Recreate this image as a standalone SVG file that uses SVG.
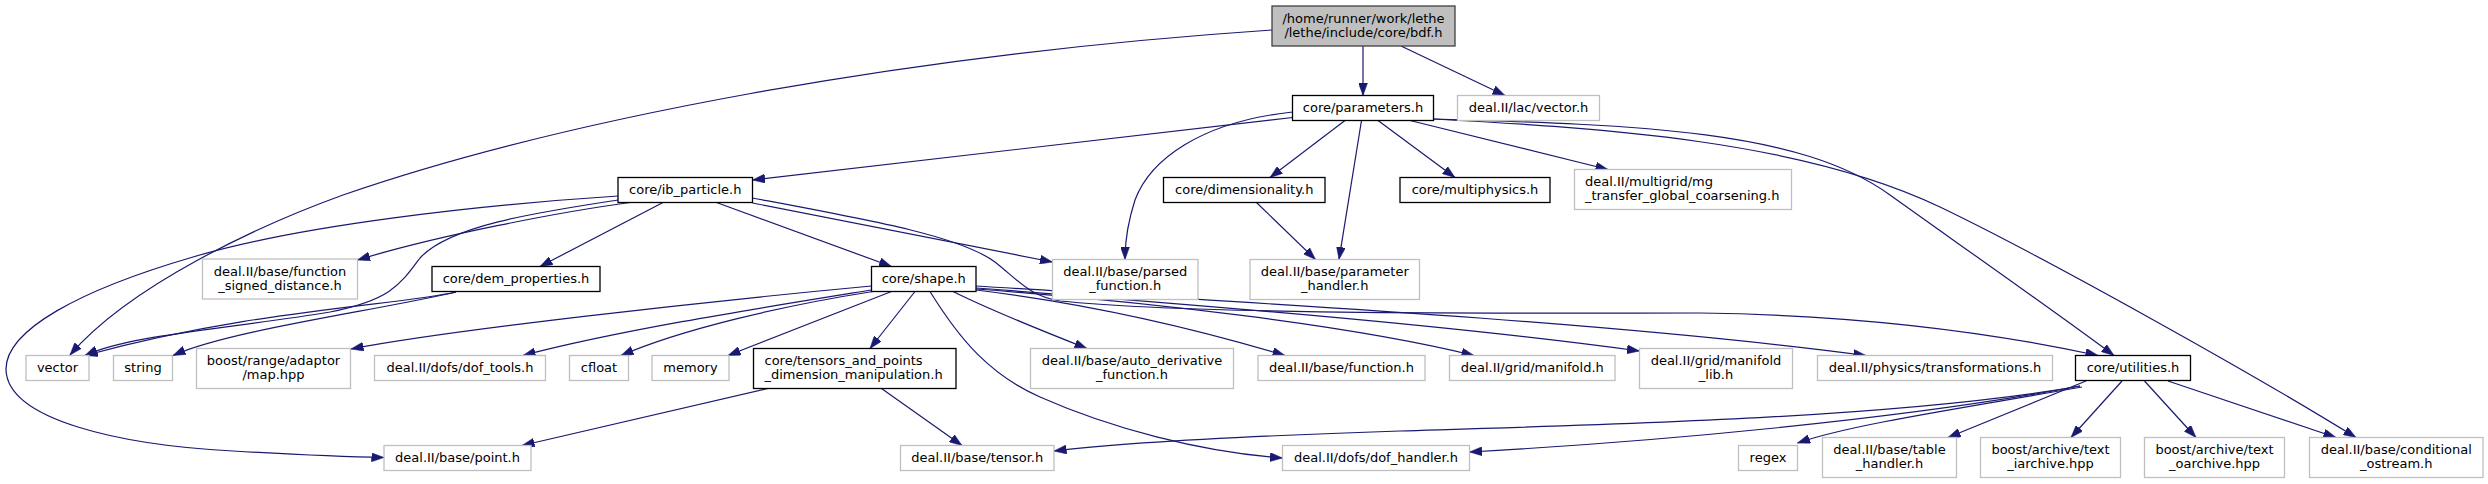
<svg xmlns="http://www.w3.org/2000/svg" width="2488" height="484" viewBox="0 0 2488 484">
<defs>
<style>
.n rect{fill:#ffffff;stroke:#000000;stroke-width:1.3}
.x rect{fill:#ffffff;stroke:#bfbfbf;stroke-width:1.3}
.r rect{fill:#bfbfbf;stroke:#404040;stroke-width:1.3}
text{font-family:"DejaVu Sans","Liberation Sans",sans-serif;font-size:13px;fill:#000000;text-anchor:middle}
text.l{text-anchor:start}
#edges path{fill:none;stroke:#191970;stroke-width:1.2;marker-end:url(#arr)}
</style>
<marker id="arr" markerUnits="userSpaceOnUse" markerWidth="13" markerHeight="9" refX="12.5" refY="4.5" orient="auto" viewBox="0 0 13 9">
<path d="M0,0 L12.5,4.5 L0,9 Z" fill="#191970" stroke="#191970" stroke-width="0.5"/>
</marker>
</defs>
<rect width="2488" height="484" fill="#ffffff"/>
<g id="edges">
<path d="M1363,46 L1363,95.5"/>
<path d="M1401,46 L1505,95.5"/>
<path d="M1272,30 C900,55 560,120 343,195 C260,225 130,285 70,355"/>
<path d="M1292.5,117.5 L752.5,180"/>
<path d="M1292.5,112 C1200,122 1150,160 1135,200 C1127,225 1125,245 1125,259.5"/>
<path d="M1345,120.5 L1270,177.5"/>
<path d="M1361.5,120.5 L1339,259.5"/>
<path d="M1378,120.5 L1455,177.5"/>
<path d="M1410,120.5 L1608,169.5"/>
<path d="M1433.5,119 C1640,125 1800,130 1890,195 C1950,238 2050,308 2114,355.5"/>
<path d="M1433.5,119 C1600,128 1800,140 1940,207 C2040,255 2250,372 2356,437.5"/>
<path d="M1256.5,202.5 L1315.5,259.5"/>
<path d="M630,202.5 C560,212 440,235 357.5,260"/>
<path d="M618,196 C480,205 300,225 193,257 C80,290 5,330 6,370 C8,420 120,445 233,451 C300,455 350,457 384,457.5"/>
<path d="M618,200 C540,212 450,225 420,258 C400,285 390,300 330,312 C220,330 130,335 85,355.5"/>
<path d="M663,202.5 L540,266.5"/>
<path d="M716.5,202.5 L891.5,266.5"/>
<path d="M752.5,203 L1052.5,262"/>
<path d="M752.5,198 C870,220 960,236 995,262 C1020,282 1030,296 1060,301 C1200,315 1500,313 1700,313 C1850,315 1980,330 2098,355.5"/>
<path d="M871.5,286 C700,302 450,330 351,349"/>
<path d="M871.5,290 C760,308 620,330 523,355.5"/>
<path d="M873,291.5 C780,306 680,330 621,355.5"/>
<path d="M891.5,291.5 L728,355.5"/>
<path d="M915,291.5 L870,348.5"/>
<path d="M930,291.5 C960,340 990,375 1040,397 C1110,428 1200,452 1282.5,458"/>
<path d="M953,291.5 C990,310 1040,330 1087,348.5"/>
<path d="M976,290 C1100,305 1200,330 1285,355.5"/>
<path d="M976,289 C1150,302 1350,325 1474,355.5"/>
<path d="M976,288 C1200,305 1450,325 1639.5,351"/>
<path d="M976,286 C1200,300 1600,320 1866,355.5"/>
<path d="M2080,386 C1900,418 1600,425 1400,431 C1250,436 1120,443 1054,451"/>
<path d="M2080,386 C1900,420 1650,442 1469.5,452"/>
<path d="M2082,387 C1950,410 1850,425 1797.5,443"/>
<path d="M2086,381 L1948,437.5"/>
<path d="M2122,381 L2071,437.5"/>
<path d="M2144.5,381 L2196,437.5"/>
<path d="M2168,381 L2336,437.5"/>
<path d="M768,388.5 L522,445.5"/>
<path d="M881.5,388.5 L962,445.5"/>
<path d="M456,292 C400,305 250,310 85,355.5"/>
<path d="M456,292 C380,310 230,330 173,355.5"/>
</g>
<g id="node1" class="r"><rect x="1272" y="6" width="183" height="40"/><text x="1363.5" y="22.6">/home/runner/work/lethe</text><text x="1363.5" y="36.9">/lethe/include/core/bdf.h</text></g>
<g id="node2" class="n"><rect x="1292.5" y="95.5" width="141" height="25"/><text x="1363" y="112.3">core/parameters.h</text></g>
<g id="node3" class="x"><rect x="1457.5" y="95.5" width="142" height="25"/><text x="1528.5" y="112.3">deal.II/lac/vector.h</text></g>
<g id="node4" class="n"><rect x="618" y="177.5" width="134.5" height="25"/><text x="685.25" y="194.3">core/ib_particle.h</text></g>
<g id="node5" class="n"><rect x="1163.5" y="177.5" width="161.5" height="25"/><text x="1244.25" y="194.3">core/dimensionality.h</text></g>
<g id="node6" class="n"><rect x="1400" y="177.5" width="150" height="25"/><text x="1475" y="194.3">core/multiphysics.h</text></g>
<g id="node7" class="x"><rect x="1574.5" y="169.5" width="217" height="40"/><text class="l" x="1585" y="186.1">deal.II/multigrid/mg</text><text class="l" x="1585" y="200.4">_transfer_global_coarsening.h</text></g>
<g id="node8" class="x"><rect x="1052.5" y="259.5" width="145.5" height="40"/><text x="1125.25" y="276.1">deal.II/base/parsed</text><text x="1125.25" y="290.4">_function.h</text></g>
<g id="node9" class="x"><rect x="1250" y="259.5" width="169.5" height="40"/><text x="1334.75" y="276.1">deal.II/base/parameter</text><text x="1334.75" y="290.4">_handler.h</text></g>
<g id="node10" class="x"><rect x="202.5" y="259" width="155" height="40"/><text x="280" y="275.6">deal.II/base/function</text><text x="280" y="289.9">_signed_distance.h</text></g>
<g id="node11" class="n"><rect x="432" y="266.5" width="168" height="25"/><text x="516" y="283.3">core/dem_properties.h</text></g>
<g id="node12" class="n"><rect x="871.5" y="266.5" width="104.5" height="25"/><text x="923.75" y="283.3">core/shape.h</text></g>
<g id="node13" class="x"><rect x="26" y="355.5" width="63" height="25"/><text x="57.5" y="372.3">vector</text></g>
<g id="node14" class="x"><rect x="113.5" y="355.5" width="59" height="25"/><text x="143" y="372.3">string</text></g>
<g id="node15" class="x"><rect x="196.5" y="348.5" width="154" height="40"/><text x="273.5" y="365.1">boost/range/adaptor</text><text x="273.5" y="379.4">/map.hpp</text></g>
<g id="node16" class="x"><rect x="374.5" y="355.5" width="171" height="25"/><text x="460" y="372.3">deal.II/dofs/dof_tools.h</text></g>
<g id="node17" class="x"><rect x="569.5" y="355.5" width="59" height="25"/><text x="599" y="372.3">cfloat</text></g>
<g id="node18" class="x"><rect x="652" y="355.5" width="77" height="25"/><text x="690.5" y="372.3">memory</text></g>
<g id="node19" class="n"><rect x="753.5" y="348.5" width="202.5" height="40"/><text class="l" x="764.5" y="365.1">core/tensors_and_points</text><text class="l" x="764.5" y="379.4">_dimension_manipulation.h</text></g>
<g id="node20" class="x"><rect x="1030.5" y="348.5" width="203" height="40"/><text x="1132" y="365.1">deal.II/base/auto_derivative</text><text x="1132" y="379.4">_function.h</text></g>
<g id="node21" class="x"><rect x="1258" y="355.5" width="167" height="25"/><text x="1341.5" y="372.3">deal.II/base/function.h</text></g>
<g id="node22" class="x"><rect x="1449.5" y="355.5" width="165.5" height="25"/><text x="1532.25" y="372.3">deal.II/grid/manifold.h</text></g>
<g id="node23" class="x"><rect x="1639.5" y="348.5" width="153" height="40"/><text x="1716" y="365.1">deal.II/grid/manifold</text><text x="1716" y="379.4">_lib.h</text></g>
<g id="node24" class="x"><rect x="1817.5" y="355.5" width="235" height="25"/><text x="1935" y="372.3">deal.II/physics/transformations.h</text></g>
<g id="node25" class="n"><rect x="2075.5" y="355.5" width="115" height="25"/><text x="2133" y="372.3">core/utilities.h</text></g>
<g id="node26" class="x"><rect x="384" y="445.5" width="147" height="25"/><text x="457.5" y="462.3">deal.II/base/point.h</text></g>
<g id="node27" class="x"><rect x="900.5" y="445.5" width="153.5" height="25"/><text x="977.25" y="462.3">deal.II/base/tensor.h</text></g>
<g id="node28" class="x"><rect x="1282.5" y="445.5" width="187" height="25"/><text x="1376" y="462.3">deal.II/dofs/dof_handler.h</text></g>
<g id="node29" class="x"><rect x="1738.5" y="445.5" width="59" height="25"/><text x="1768" y="462.3">regex</text></g>
<g id="node30" class="x"><rect x="1822.5" y="437.5" width="134" height="40"/><text x="1889.5" y="454.1">deal.II/base/table</text><text x="1889.5" y="468.4">_handler.h</text></g>
<g id="node31" class="x"><rect x="1980.5" y="437.5" width="140" height="40"/><text x="2050.5" y="454.1">boost/archive/text</text><text x="2050.5" y="468.4">_iarchive.hpp</text></g>
<g id="node32" class="x"><rect x="2144.5" y="437.5" width="140" height="40"/><text x="2214.5" y="454.1">boost/archive/text</text><text x="2214.5" y="468.4">_oarchive.hpp</text></g>
<g id="node33" class="x"><rect x="2309.5" y="437.5" width="173.5" height="40"/><text x="2396.25" y="454.1">deal.II/base/conditional</text><text x="2396.25" y="468.4">_ostream.h</text></g>
</svg>
